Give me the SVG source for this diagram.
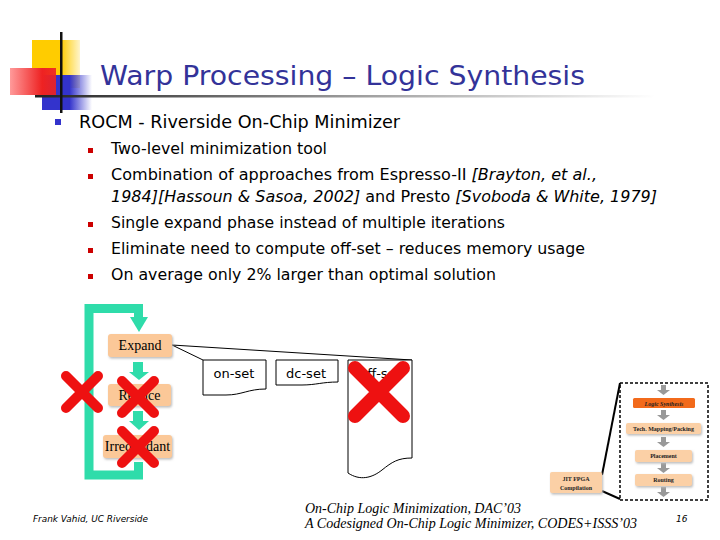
<svg xmlns="http://www.w3.org/2000/svg" width="720" height="540" viewBox="0 0 720 540">
<defs>
<linearGradient id="gRed" x1="0" y1="0" x2="1" y2="0">
<stop offset="0" stop-color="#ff9a9a"/><stop offset="0.7" stop-color="#ee2222"/><stop offset="1" stop-color="#ee2222" stop-opacity="0.9"/>
</linearGradient>
<linearGradient id="gBlue" x1="0" y1="0" x2="1" y2="0">
<stop offset="0" stop-color="#3333cc"/><stop offset="0.55" stop-color="#3333cc"/><stop offset="1" stop-color="#3333cc" stop-opacity="0"/>
</linearGradient>
<linearGradient id="gYel" x1="0" y1="0" x2="1" y2="0">
<stop offset="0" stop-color="#ffcc00"/><stop offset="0.6" stop-color="#ffcc00"/><stop offset="1" stop-color="#ffcc00" stop-opacity="0.2"/>
</linearGradient>
<linearGradient id="gLine" x1="0" y1="0" x2="1" y2="0">
<stop offset="0" stop-color="#222"/><stop offset="0.5" stop-color="#999"/><stop offset="1" stop-color="#fff"/>
</linearGradient>
<filter id="sh" x="-10%" y="-10%" width="130%" height="140%">
<feDropShadow dx="1" dy="1.5" stdDeviation="0.8" flood-color="#bbb"/>
</filter>
</defs>
<style>
.title{font-family:"DejaVu Sans",Verdana,sans-serif;font-size:27px;fill:#333399}
.l1{font-family:"DejaVu Sans",Verdana,sans-serif;font-size:18px;fill:#000}
.l2{font-family:"DejaVu Sans",Verdana,sans-serif;font-size:16.5px;fill:#000}
.it{font-style:italic}
.peach{fill:#fbc898;filter:url(#sh)}
.btxt{font-family:"Liberation Serif","Times New Roman",serif;font-size:14px;fill:#000;text-anchor:middle}
.doc{fill:#fff;stroke:#000;stroke-width:1}
.dtxt{font-family:"DejaVu Sans",Verdana,sans-serif;font-size:13px;fill:#000;text-anchor:middle}
.teal{fill:#2fdcaa}
.x{stroke:#ee1111;stroke-linecap:round;fill:none}
.gray{fill:#999}
.rb{fill:#fbd0a6;filter:url(#sh)}
.rt{font-family:"Liberation Serif",serif;font-size:6px;fill:#222;text-anchor:middle;font-weight:bold}
.ft{font-family:"Liberation Serif",serif;font-style:italic;font-size:14px;fill:#000}
.fs{font-family:"DejaVu Sans",Verdana,sans-serif;font-style:italic;font-size:9px;fill:#000}
</style>

<g id="logo">
<rect x="32" y="40" width="48" height="48" fill="url(#gYel)"/>
<rect x="42" y="75" width="50" height="35" fill="url(#gBlue)"/>
<rect x="10" y="68" width="46" height="27" fill="url(#gRed)"/>
<rect x="35" y="95" width="620" height="2.5" fill="url(#gLine)"/>
<rect x="60" y="32" width="2.5" height="81" fill="#111"/>
</g>

<text id="title" class="title" x="100" y="85" textLength="485" lengthAdjust="spacingAndGlyphs">Warp Processing – Logic Synthesis</text>

<g id="bullets">
<rect x="55" y="119" width="6" height="6" fill="#3333cc"/>
<text class="l1" x="79" y="128" textLength="321" lengthAdjust="spacingAndGlyphs">ROCM - Riverside On-Chip Minimizer</text>
<rect x="88" y="148" width="5" height="5" fill="#cc0000"/>
<text class="l2" x="111" y="154" textLength="216" lengthAdjust="spacingAndGlyphs">Two-level minimization tool</text>
<rect x="88" y="174" width="5" height="5" fill="#cc0000"/>
<text class="l2" x="111" y="180" textLength="486" lengthAdjust="spacingAndGlyphs">Combination of approaches from Espresso-II <tspan class="it">[Brayton, et al.,</tspan></text>
<text class="l2" x="111" y="202" textLength="546" lengthAdjust="spacingAndGlyphs"><tspan class="it">1984][Hassoun &amp; Sasoa, 2002]</tspan> and Presto <tspan class="it">[Svoboda &amp; White, 1979]</tspan></text>
<rect x="88" y="222" width="5" height="5" fill="#cc0000"/>
<text class="l2" x="111" y="228" textLength="394" lengthAdjust="spacingAndGlyphs">Single expand phase instead of multiple iterations</text>
<rect x="88" y="248" width="5" height="5" fill="#cc0000"/>
<text class="l2" x="111" y="254" textLength="474" lengthAdjust="spacingAndGlyphs">Eliminate need to compute off-set – reduces memory usage</text>
<rect x="88" y="274" width="5" height="5" fill="#cc0000"/>
<text class="l2" x="111" y="280" textLength="385" lengthAdjust="spacingAndGlyphs">On average only 2% larger than optimal solution</text>
</g>

<g id="connectors">
<path d="M138.5,462 V475 H89 V308.5 H138.5 V318" fill="none" stroke="#2fdcaa" stroke-width="9"/>
<polygon class="teal" points="130,317 148,317 139,332"/>
<rect class="teal" x="133" y="362" width="10" height="10"/>
<polygon class="teal" points="129,372 149,372 139,380"/>
<rect class="teal" x="133" y="411" width="10" height="10"/>
<polygon class="teal" points="129,421 149,421 139,430"/>
<line x1="172" y1="345" x2="203" y2="360" stroke="#000" stroke-width="1"/>
<line x1="172" y1="345" x2="412" y2="360" stroke="#000" stroke-width="1"/>
<line x1="602" y1="475" x2="620" y2="383" stroke="#000" stroke-width="2"/>
<line x1="602" y1="491" x2="620" y2="499" stroke="#000" stroke-width="2"/>
<g class="gray">
<rect x="661" y="385" width="5" height="5"/><polygon points="657,390 670,390 663.5,395"/>
<rect x="661" y="410" width="5" height="5"/><polygon points="657,415 670,415 663.5,420"/>
<rect x="661" y="437" width="5" height="5"/><polygon points="657,442 670,442 663.5,447"/>
<rect x="661" y="463" width="5" height="5"/><polygon points="657,468 670,468 663.5,473"/>
<rect x="661" y="487" width="5" height="5"/><polygon points="657,492 670,492 663.5,497"/>
</g>
</g>

<g id="expand"><rect class="peach" x="108" y="334" width="64" height="23" rx="3"/><text class="btxt" x="140" y="350">Expand</text></g>
<g id="reduce"><rect class="peach" x="108" y="384" width="63" height="22" rx="3"/><text class="btxt" x="139.5" y="400">Reduce</text></g>
<g id="irredundant"><rect class="peach" x="103" y="435" width="69" height="23" rx="3"/><text class="btxt" x="137.5" y="451">Irredundant</text></g>

<g id="onset"><path class="doc" d="M203,360 H266 V389 C248,389 242,395 226,395 H203 Z"/><text class="dtxt" x="234" y="378">on-set</text></g>
<g id="dcset"><path class="doc" d="M276,360 H338 V382 C322,382 316,385 302,385 H276 Z"/><text class="dtxt" x="306" y="378">dc-set</text></g>
<g id="offset"><path class="doc" d="M348,360 H412 V458 C398,458 392,462 382,470 C372,478 360,481 348,473 Z"/><text class="dtxt" x="380" y="378">off-set</text></g>

<g id="crosses">
<path class="x" stroke-width="10" d="M66,376 L98,408 M98,376 L66,408"/>
<path class="x" stroke-width="10" d="M122,381 L154,413 M154,381 L122,413"/>
<path class="x" stroke-width="10" d="M122,431 L154,463 M154,431 L122,463"/>
<path class="x" stroke-width="14" d="M355,368 L403,416 M403,368 L355,416"/>
</g>

<g id="flow">
<rect x="620" y="383" width="88" height="117" fill="none" stroke="#000" stroke-width="1.5" stroke-dasharray="3,2"/>
<g id="jit"><rect class="rb" x="550" y="472" width="52" height="21" rx="2"/><text class="rt" x="576" y="481">JIT FPGA</text><text class="rt" x="576" y="490">Compilation</text></g>
<g id="logic"><rect x="633" y="398" width="62" height="10" rx="1.5" fill="#f26a1b"/><text class="rt" x="664" y="405.5" font-style="italic">Logic Synthesis</text></g>
<g id="tech"><rect class="rb" x="626" y="423" width="75" height="11" rx="2"/><text class="rt" x="663.5" y="431">Tech. Mapping/Packing</text></g>
<g id="placement"><rect class="rb" x="635" y="450" width="57" height="12" rx="2"/><text class="rt" x="663.5" y="458">Placement</text></g>
<g id="routing"><rect class="rb" x="635" y="474" width="57" height="12" rx="2"/><text class="rt" x="663.5" y="482">Routing</text></g>
</g>

<g id="footer">
<text class="fs" x="33" y="522" textLength="115" lengthAdjust="spacingAndGlyphs">Frank Vahid, UC Riverside</text>
<text class="ft" x="305" y="513" textLength="216" lengthAdjust="spacingAndGlyphs">On-Chip Logic Minimization, DAC’03</text>
<text class="ft" x="305" y="528" textLength="332" lengthAdjust="spacingAndGlyphs">A Codesigned On-Chip Logic Minimizer, CODES+ISSS’03</text>
<text class="fs" x="676" y="522">16</text>
</g>
</svg>
